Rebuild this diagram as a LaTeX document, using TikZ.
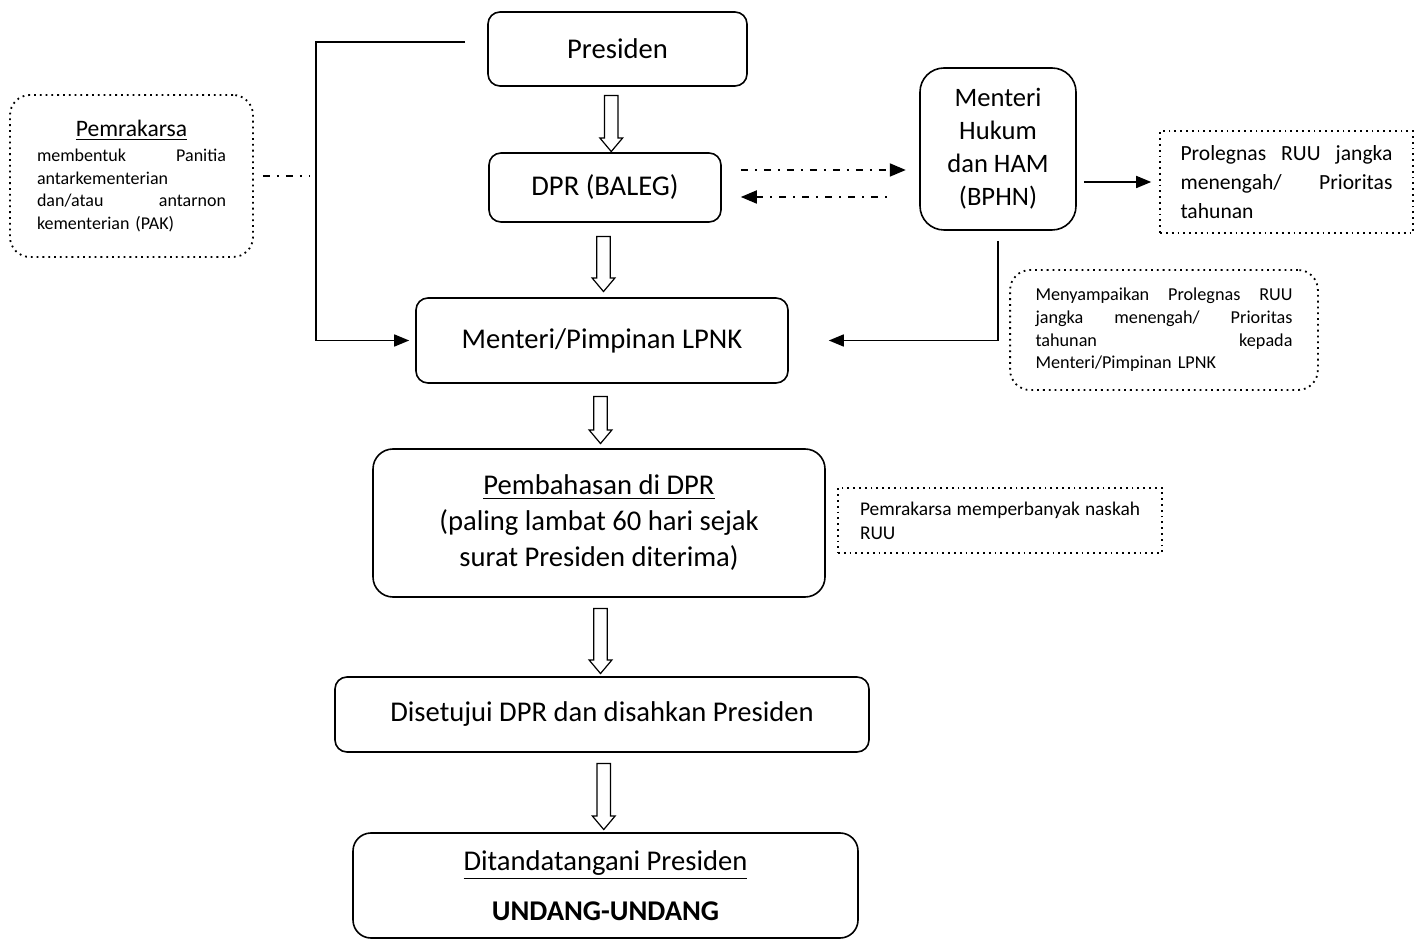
\documentclass[tikz,border=0pt]{standalone}
\usepackage{fontspec}
\setmainfont{Carlito}
\usetikzlibrary{shapes.arrows,arrows.meta,calc}

\begin{document}
\begin{tikzpicture}[x=0.5pt, y=-0.5pt,
            box/.style = {draw, rounded corners=6pt, line width=0.8pt, align=center,
                          font=\fontsize{14.3}{18}\selectfont},
            note/.style = {draw, dotted, line width=0.9pt, align=left},
            flow/.style = {draw, single arrow, shape border rotate=270, line width=0.6pt,
                           inner sep=3.1pt, single arrow head extend=2.3pt,
                           single arrow head indent=0pt, single arrow tip angle=80},
            link/.style = {line width=0.8pt, -{Triangle[length=7.5pt,width=6pt]}},
            dashlink/.style = {line width=0.9pt, dash pattern=on 3.5pt off 3.5pt on 1pt off 3.5pt}]
  \useasboundingbox (0,0) rectangle (1419,940);

  % main column
  \node[box, minimum width=129.5pt, minimum height=37pt] (pres) at (617.5,49) {Presiden};
  \node[box, minimum width=116pt, minimum height=34.5pt] (dpr) at (605,187.5) {DPR (BALEG)};
  \node[box, minimum width=186pt, minimum height=42.5pt] (lpnk) at (602,340.5) {Menteri/Pimpinan LPNK};
  \node[box, rounded corners=10pt, minimum width=226pt, minimum height=74pt] (pemb) at (599,523)
       {\underline{Pembahasan di DPR}\\(paling lambat 60 hari sejak\\surat Presiden diterima)};
  \node[box, minimum width=267pt, minimum height=37.5pt] (dis) at (602,714.5) {Disetujui DPR dan disahkan Presiden};
  \node[box, rounded corners=9pt, minimum width=252.5pt, minimum height=52.5pt] (dit) at (605.5,885.5)
       {\underline{Ditandatangani Presiden}\\[7pt]\textbf{UNDANG-UNDANG}};

  % side boxes
  \node[box, rounded corners=12pt, font=\fontsize{13.3}{16.5}\selectfont,
        minimum width=78pt, minimum height=81pt] (ham) at (998,149)
       {Menteri\\Hukum\\dan HAM\\(BPHN)};
  \node[note, rounded corners=10pt, text width=94.5pt, inner xsep=13.5pt,
        minimum height=81pt, font=\fontsize{9}{11.25}\selectfont] (pak) at (131.5,176)
       {\hfill{\fontsize{11.8}{14}\selectfont\underline{Pemrakarsa}}\hfill\null\\[1.2pt]
        membentuk\hfill Panitia\\antarkementerian\\dan/atau\hfill antarnon\\kementerian (PAK)};
  \node[note, text width=106pt, inner xsep=10.2pt, minimum height=51pt,
        font=\fontsize{10.8}{14.5}\selectfont] (prol) at (1286.5,182)
       {Prolegnas\hfill RUU\hfill jangka\\menengah/\hfill Prioritas\\tahunan};
  \node[note, rounded corners=10pt, text width=128.5pt, inner xsep=12.7pt, minimum height=60pt,
        font=\fontsize{9.1}{11.35}\selectfont] (menya) at (1164,330)
       {Menyampaikan\hfill Prolegnas\hfill RUU\\jangka\hfill menengah/\hfill Prioritas\\tahunan\hfill kepada\\Menteri/Pimpinan LPNK};
  \node[note, text width=140pt, inner xsep=11pt, minimum height=32.5pt,
        font=\fontsize{9.7}{12}\selectfont] (banyak) at (1000,520.5)
       {Pemrakarsa\hfill memperbanyak\hfill naskah\\RUU};

  % hollow arrows
  \node[flow, minimum height=28pt] (a1) at ($(pres.south)!0.5!(dpr.north)$) {};
  \node[flow, minimum height=27.5pt] (a2) at ($(dpr.south)!0.5!(lpnk.north)$) {};
  \node[flow, minimum height=23.5pt] (a3) at ($(lpnk.south)!0.5!(pemb.north)$) {};
  \node[flow, minimum height=32.5pt] (a4) at ($(pemb.south)!0.5!(dis.north)$) {};
  \node[flow, minimum height=33pt] (a5) at ($(dis.south)!0.5!(dit.north)$) {};

  % connectors
  \coordinate (p1) at (465,42);
  \draw[link, shorten >=3pt] (p1) -- ++(-149,0) |- (lpnk.west);
  \draw[link, shorten <=5pt, shorten >=20pt] (ham.south) |- (lpnk.east);
  \draw[link, shorten <=3.5pt, shorten >=4pt] (ham.east |- prol.west) -- (prol.west);
  \draw[dashlink] ([xshift=4.5pt]pak.east) -- ++(23.5pt,0);
  \draw[dashlink, -{Triangle[length=8pt,width=6.5pt]}] ([xshift=9.5pt,yshift=8.75pt]dpr.east) -- +(82.5pt,0);
  \draw[dashlink, {Triangle[length=8pt,width=6.5pt]}-] ([xshift=9.5pt,yshift=-4.75pt]dpr.east) -- +(75pt,0);
\end{tikzpicture}
\end{document}
